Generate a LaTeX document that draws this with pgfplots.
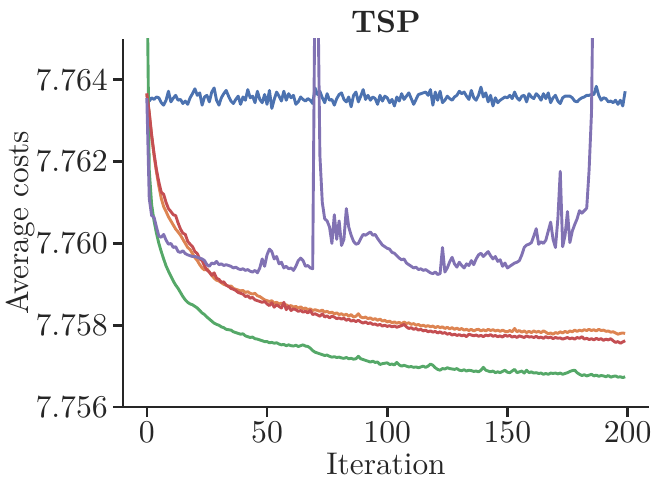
\documentclass[border=0pt]{standalone}
\usepackage{pgfplots}
\usepackage{pgfplotstable}
\pgfplotsset{compat=1.18}
\definecolor{sbblue}{HTML}{4C72B0}
\definecolor{sborange}{HTML}{DD8452}
\definecolor{sbgreen}{HTML}{55A868}
\definecolor{sbred}{HTML}{C44E52}
\definecolor{sbpurple}{HTML}{8172B3}
\definecolor{axcol}{gray}{0.15}
\pgfplotstableread{
i b o g r p
0 7.76362 7.76365 7.76700 7.76367 7.76355
1 7.76348 7.76318 7.76180 7.76320 7.76110
2 7.76356 7.76262 7.76095 7.76265 7.76068
3 7.76352 7.76215 7.76055 7.76220 7.76064
4 7.76358 7.76175 7.76025 7.76180 7.76040
5 7.76356 7.76140 7.76000 7.76150 7.76018
6 7.76344 7.76110 7.75980 7.76125 7.76015
7 7.76338 7.76090 7.75962 7.76120 7.76022
8 7.76350 7.76078 7.75945 7.76100 7.76008
9 7.76372 7.76065 7.75932 7.76085 7.75998
10 7.76346 7.76055 7.75920 7.76078 7.76000
11 7.76355 7.76045 7.75908 7.76070 7.75990
12 7.76362 7.76035 7.75898 7.76068 7.75992
13 7.76350 7.76028 7.75890 7.76050 7.75980
14 7.76352 7.76020 7.75880 7.76035 7.75978
15 7.76342 7.76010 7.75870 7.76025 7.75982
16 7.76348 7.76000 7.75862 7.76022 7.75975
17 7.76340 7.75990 7.75856 7.76005 7.75972
18 7.76356 7.75985 7.75852 7.75998 7.75970
19 7.76366 7.75975 7.75850 7.75992 7.75968
20 7.76378 7.75965 7.75846 7.75980 7.75968
21 7.76362 7.75958 7.75842 7.75975 7.75966
22 7.76368 7.75948 7.75836 7.75962 7.75964
23 7.76338 7.75940 7.75830 7.75958 7.75962
24 7.76358 7.75935 7.75826 7.75945 7.75958
25 7.76362 7.75938 7.75820 7.75935 7.75948
26 7.76346 7.75930 7.75815 7.75930 7.75944
27 7.76370 7.75922 7.75810 7.75922 7.75952
28 7.76380 7.75915 7.75805 7.75928 7.75950
29 7.76350 7.75910 7.75802 7.75915 7.75956
30 7.76338 7.75908 7.75800 7.75912 7.75948
31 7.76356 7.75904 7.75796 7.75905 7.75950
32 7.76366 7.75900 7.75794 7.75906 7.75946
33 7.76374 7.75898 7.75790 7.75898 7.75948
34 7.76360 7.75895 7.75789 7.75895 7.75946
35 7.76348 7.75896 7.75788 7.75890 7.75944
36 7.76342 7.75890 7.75784 7.75888 7.75940
37 7.76352 7.75888 7.75782 7.75885 7.75942
38 7.76360 7.75886 7.75780 7.75880 7.75938
39 7.76340 7.75884 7.75778 7.75878 7.75936
40 7.76358 7.75885 7.75779 7.75876 7.75938
41 7.76350 7.75880 7.75774 7.75870 7.75934
42 7.76376 7.75882 7.75772 7.75872 7.75936
43 7.76356 7.75878 7.75770 7.75866 7.75932
44 7.76360 7.75876 7.75771 7.75868 7.75930
45 7.76344 7.75878 7.75767 7.75862 7.75934
46 7.76372 7.75872 7.75766 7.75860 7.75928
47 7.76352 7.75870 7.75764 7.75858 7.75940
48 7.76344 7.75866 7.75762 7.75856 7.75962
49 7.76364 7.75862 7.75760 7.75858 7.75944
50 7.76340 7.75860 7.75760 7.75852 7.75972
51 7.76374 7.75858 7.75757 7.75848 7.75986
52 7.76330 7.75860 7.75758 7.75855 7.75980
53 7.76352 7.75854 7.75756 7.75844 7.75962
54 7.76370 7.75856 7.75757 7.75850 7.75968
55 7.76360 7.75852 7.75754 7.75846 7.75950
56 7.76348 7.75854 7.75752 7.75842 7.75954
57 7.76372 7.75848 7.75753 7.75856 7.75940
58 7.76350 7.75850 7.75750 7.75838 7.75944
59 7.76366 7.75846 7.75752 7.75846 7.75938
60 7.76356 7.75848 7.75750 7.75836 7.75940
61 7.76362 7.75844 7.75749 7.75840 7.75934
62 7.76340 7.75846 7.75751 7.75838 7.75944
63 7.76346 7.75842 7.75748 7.75834 7.75958
64 7.76358 7.75845 7.75750 7.75836 7.75964
65 7.76352 7.75840 7.75752 7.75832 7.75958
66 7.76348 7.75842 7.75749 7.75834 7.75944
67 7.76354 7.75838 7.75748 7.75830 7.75946
68 7.76350 7.75840 7.75744 7.75836 7.75940
69 7.76342 7.75836 7.75738 7.75826 7.75938
70 7.76380 7.75838 7.75734 7.75828 7.76680
71 7.76364 7.75836 7.75732 7.75825 7.76700
72 7.76372 7.75834 7.75730 7.75822 7.76215
73 7.76356 7.75837 7.75728 7.75828 7.76100
74 7.76344 7.75832 7.75726 7.75820 7.76060
75 7.76366 7.75834 7.75727 7.75823 7.76055
76 7.76350 7.75830 7.75724 7.75818 7.76040
77 7.76352 7.75832 7.75722 7.75822 7.76000
78 7.76338 7.75828 7.75723 7.75820 7.76070
79 7.76354 7.75830 7.75721 7.75816 7.76010
80 7.76364 7.75826 7.75722 7.75818 7.76055
81 7.76368 7.75828 7.75720 7.75815 7.75995
82 7.76352 7.75824 7.75719 7.75817 7.76010
83 7.76346 7.75827 7.75721 7.75812 7.76085
84 7.76358 7.75822 7.75718 7.75815 7.76040
85 7.76334 7.75826 7.75719 7.75810 7.76020
86 7.76362 7.75820 7.75717 7.75812 7.76005
87 7.76370 7.75822 7.75718 7.75809 7.75998
88 7.76346 7.75828 7.75724 7.75812 7.76000
89 7.76360 7.75820 7.75718 7.75808 7.76012
90 7.76376 7.75818 7.75716 7.75805 7.76022
91 7.76352 7.75820 7.75714 7.75808 7.76020
92 7.76362 7.75816 7.75712 7.75804 7.76024
93 7.76350 7.75818 7.75710 7.75806 7.76028
94 7.76358 7.75814 7.75712 7.75802 7.76020
95 7.76354 7.75816 7.75709 7.75803 7.76022
96 7.76340 7.75812 7.75710 7.75800 7.76012
97 7.76362 7.75815 7.75704 7.75802 7.76004
98 7.76348 7.75810 7.75706 7.75798 7.75996
99 7.76360 7.75812 7.75707 7.75800 7.75992
100 7.76356 7.75808 7.75708 7.75797 7.75988
101 7.76344 7.75810 7.75704 7.75799 7.75986
102 7.76352 7.75806 7.75705 7.75796 7.75978
103 7.76336 7.75808 7.75703 7.75798 7.75976
104 7.76358 7.75805 7.75709 7.75795 7.75970
105 7.76348 7.75807 7.75703 7.75797 7.75964
106 7.76366 7.75803 7.75700 7.75799 7.75960
107 7.76352 7.75808 7.75702 7.75802 7.75962
108 7.76360 7.75804 7.75700 7.75796 7.75952
109 7.76368 7.75806 7.75698 7.75792 7.75948
110 7.76354 7.75802 7.75699 7.75794 7.75944
111 7.76340 7.75804 7.75697 7.75790 7.75940
112 7.76352 7.75800 7.75698 7.75792 7.75942
113 7.76364 7.75802 7.75696 7.75788 7.75936
114 7.76366 7.75798 7.75698 7.75790 7.75938
115 7.76368 7.75800 7.75700 7.75786 7.75934
116 7.76370 7.75797 7.75697 7.75788 7.75936
117 7.76362 7.75799 7.75700 7.75784 7.75932
118 7.76376 7.75796 7.75705 7.75786 7.75928
119 7.76338 7.75798 7.75702 7.75783 7.75926
120 7.76370 7.75794 7.75696 7.75785 7.75930
121 7.76350 7.75797 7.75692 7.75781 7.75924
122 7.76372 7.75794 7.75690 7.75784 7.75926
123 7.76344 7.75796 7.75694 7.75780 7.75990
124 7.76350 7.75792 7.75693 7.75782 7.75930
125 7.76360 7.75795 7.75696 7.75778 7.75940
126 7.76354 7.75791 7.75694 7.75780 7.75955
127 7.76350 7.75794 7.75693 7.75776 7.75966
128 7.76358 7.75790 7.75692 7.75778 7.75950
129 7.76362 7.75793 7.75694 7.75775 7.75942
130 7.76372 7.75789 7.75690 7.75777 7.75954
131 7.76366 7.75792 7.75689 7.75774 7.75946
132 7.76370 7.75788 7.75691 7.75776 7.75940
133 7.76360 7.75790 7.75688 7.75772 7.75950
134 7.76352 7.75787 7.75690 7.75778 7.75946
135 7.76374 7.75790 7.75689 7.75776 7.75958
136 7.76356 7.75786 7.75687 7.75774 7.75948
137 7.76350 7.75789 7.75688 7.75776 7.75962
138 7.76362 7.75790 7.75686 7.75773 7.75972
139 7.76382 7.75786 7.75690 7.75775 7.75976
140 7.76358 7.75789 7.75697 7.75772 7.75968
141 7.76368 7.75786 7.75690 7.75776 7.75974
142 7.76346 7.75790 7.75688 7.75774 7.75980
143 7.76362 7.75787 7.75686 7.75777 7.75970
144 7.76336 7.75789 7.75688 7.75773 7.75962
145 7.76356 7.75786 7.75684 7.75775 7.75968
146 7.76344 7.75788 7.75686 7.75772 7.75956
147 7.76350 7.75785 7.75684 7.75774 7.75960
148 7.76354 7.75788 7.75687 7.75771 7.75944
149 7.76358 7.75785 7.75690 7.75776 7.75952
150 7.76356 7.75784 7.75685 7.75773 7.75940
151 7.76362 7.75787 7.75684 7.75775 7.75944
152 7.76354 7.75784 7.75688 7.75771 7.75948
153 7.76370 7.75792 7.75692 7.75773 7.75952
154 7.76356 7.75784 7.75684 7.75770 7.75954
155 7.76350 7.75787 7.75686 7.75774 7.75958
156 7.76360 7.75783 7.75688 7.75772 7.75972
157 7.76362 7.75786 7.75683 7.75770 7.75990
158 7.76346 7.75782 7.75690 7.75774 7.75996
159 7.76366 7.75785 7.75684 7.75771 7.75998
160 7.76358 7.75782 7.75686 7.75772 7.76002
161 7.76354 7.75786 7.75683 7.75770 7.76018
162 7.76366 7.75783 7.75684 7.75773 7.76036
163 7.76360 7.75785 7.75682 7.75769 7.75998
164 7.76350 7.75782 7.75683 7.75771 7.76004
165 7.76366 7.75786 7.75680 7.75768 7.76000
166 7.76354 7.75783 7.75682 7.75772 7.76008
167 7.76368 7.75779 7.75680 7.75769 7.76030
168 7.76344 7.75781 7.75683 7.75771 7.76052
169 7.76356 7.75778 7.75682 7.75767 7.76010
170 7.76362 7.75782 7.75683 7.75770 7.75990
171 7.76348 7.75780 7.75681 7.75768 7.76060
172 7.76342 7.75784 7.75683 7.75769 7.76176
173 7.76356 7.75781 7.75680 7.75766 7.75992
174 7.76360 7.75785 7.75682 7.75768 7.76020
175 7.76360 7.75782 7.75684 7.75770 7.76078
176 7.76360 7.75786 7.75687 7.75767 7.76002
177 7.76356 7.75784 7.75689 7.75769 7.76030
178 7.76348 7.75788 7.75690 7.75766 7.76046
179 7.76346 7.75785 7.75684 7.75770 7.76060
180 7.76352 7.75788 7.75680 7.75768 7.76080
181 7.76356 7.75786 7.75677 7.75772 7.76074
182 7.76358 7.75789 7.75679 7.75766 7.76080
183 7.76362 7.75787 7.75676 7.75768 7.76086
184 7.76362 7.75790 7.75678 7.75765 7.76180
185 7.76364 7.75787 7.75680 7.75767 7.76320
186 7.76364 7.75789 7.75676 7.75764 7.76800
187 7.76384 7.75786 7.75678 7.75768 7.77500
188 7.76362 7.75790 7.75675 7.75765 7.78000
189 7.76350 7.75787 7.75677 7.75767 7.78000
190 7.76356 7.75788 7.75676 7.75763 7.78000
191 7.76354 7.75785 7.75674 7.75766 7.78000
192 7.76346 7.75786 7.75677 7.75764 7.78000
193 7.76348 7.75783 7.75673 7.75767 7.78000
194 7.76344 7.75784 7.75675 7.75762 7.78000
195 7.76350 7.75781 7.75676 7.75758 7.78000
196 7.76340 7.75778 7.75673 7.75760 7.78000
197 7.76350 7.75780 7.75674 7.75756 7.78000
198 7.76336 7.75781 7.75672 7.75759 7.78000
199 7.76372 7.75780 7.75674 7.75762 7.78000
}\data
\begin{document}
\begin{tikzpicture}
\begin{axis}[
  width=181.5pt, height=127pt, scale only axis,
  xmin=-9.95, xmax=208.95, ymin=7.756, ymax=7.765,
  axis lines=left,
  axis line style={-, line width=0.9pt, draw=axcol},
  xtick={0,50,100,150,200},
  ytick={7.756,7.758,7.760,7.762,7.764},
  yticklabels={$7.756$,$7.758$,$7.760$,$7.762$,$7.764$},
  scaled y ticks=false,
  tick align=outside,
  major tick length=3.5pt,
  every tick/.style={line width=0.9pt, draw=axcol},
  tick label style={text=axcol, font=\fontsize{10.8}{13}\selectfont, inner sep=1.5pt},
  label style={text=axcol, font=\fontsize{10.8}{13}\selectfont},
  xlabel={Iteration},
  ylabel={Average costs},
  ylabel style={inner sep=1pt},
  ylabel shift=-2.5pt,
  xlabel style={inner sep=2pt},
  title={\textbf{TSP}},
  every axis title shift=0pt,
  title style={text=axcol, font=\fontsize{10.8}{13}\selectfont, inner sep=2pt},
  every axis plot/.append style={line width=1pt, line join=round},
]
\addplot[sbblue] table[x=i, y=b] {\data};
\addplot[sborange] table[x=i, y=o] {\data};
\addplot[sbgreen] table[x=i, y=g] {\data};
\addplot[sbred] table[x=i, y=r] {\data};
\addplot[sbpurple] table[x=i, y=p] {\data};
\end{axis}
\pgfresetboundingbox
\path[use as bounding box] ([shift={(-42.4pt,-29pt)}]current axis.south west) rectangle ([shift={(186.3pt,140.4pt)}]current axis.south west);
\end{tikzpicture}
\end{document}
